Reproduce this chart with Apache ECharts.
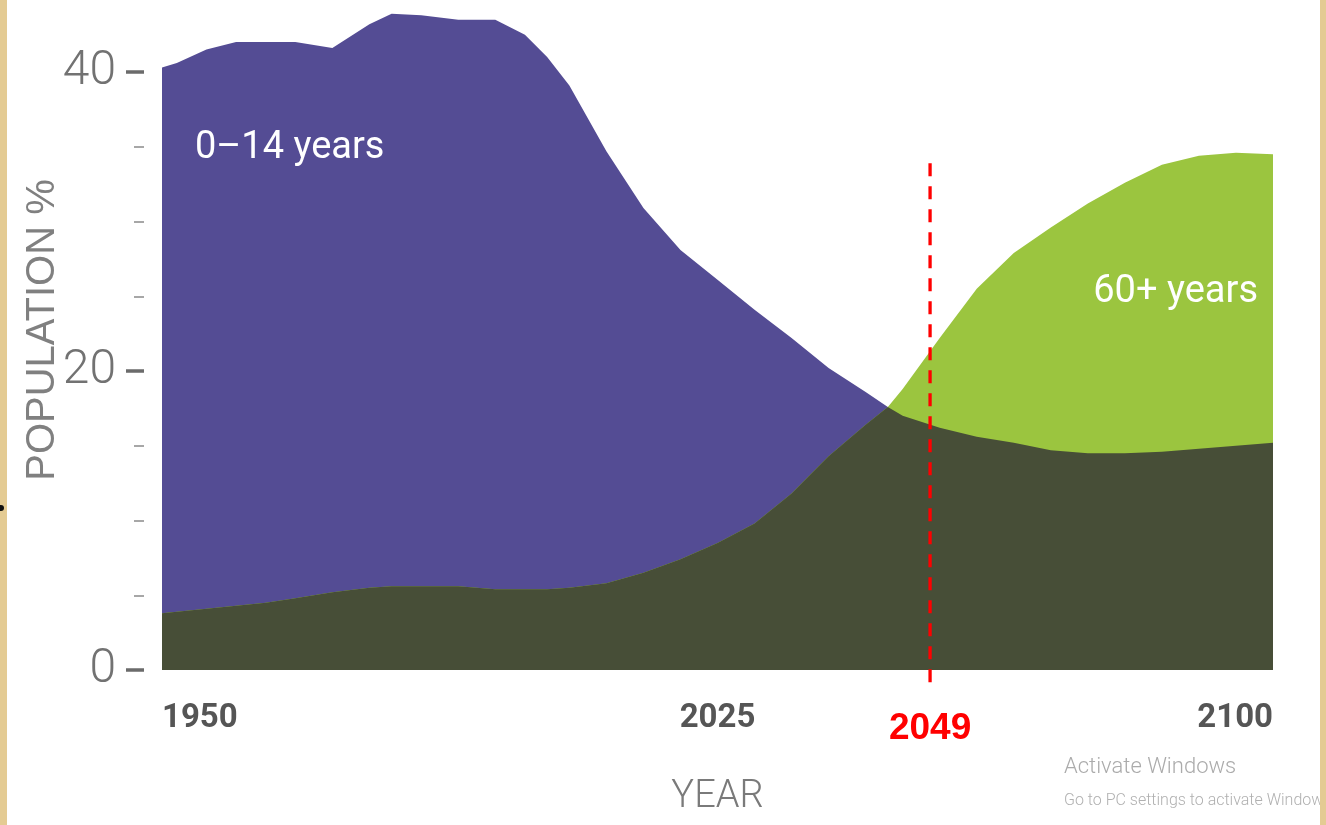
<!DOCTYPE html>
<html>
<head>
<meta charset="utf-8">
<script src="https://cdn.jsdelivr.net/npm/echarts@6/dist/echarts.min.js"></script>
<style>
  html, body { margin: 0; padding: 0; background: #ffffff; }
  #chart { width: 1326px; height: 825px; }
</style>
</head>
<body>
<div id="chart"></div>
<script>
// Years (value axis)
const years = [1950, 1952, 1956, 1960, 1964, 1968, 1973, 1978, 1981, 1985, 1990, 1995, 1999, 2002, 2005,
  2010, 2015, 2020, 2025, 2030, 2035, 2040, 2045, 2048, 2050, 2055, 2060, 2065, 2070, 2075, 2080, 2085, 2090, 2095, 2100];
// Share of population aged 0–14 (%)
const youth = [40.3, 40.6, 41.5, 42.0, 42.0, 42.0, 41.6, 43.2, 43.9, 43.8, 43.5, 43.5, 42.5, 41.0, 39.1,
  34.7, 30.9, 28.1, 26.1, 24.1, 22.2, 20.2, 18.6, 17.6, 17.0, 16.2, 15.6, 15.2, 14.7, 14.5, 14.5, 14.6, 14.8, 15.0, 15.2];
// Share of population aged 60+ (%)
const elderly = [3.8, 3.9, 4.1, 4.3, 4.5, 4.8, 5.2, 5.5, 5.6, 5.6, 5.6, 5.4, 5.4, 5.4, 5.5,
  5.8, 6.5, 7.4, 8.5, 9.8, 11.8, 14.3, 16.4, 17.6, 18.8, 22.2, 25.5, 27.9, 29.6, 31.2, 32.6, 33.8, 34.4, 34.6, 34.5];
// Axis ticks
const xTicks = { min: 1950, max: 2100, interval: 75 };
const yTicks = { min: 0, max: 60, interval: 20 };
// Annotation (dashed marker)
const markerYear = 2053.7;
const markerLabel = '2049';
const markerTop = 33.9;
const markerBottom = -1.4;
const seriesNames = ['0–14 years', '60+ years'];

const overlap = years.map((y, i) => Math.min(youth[i], elderly[i]));
const pairs = arr => years.map((y, i) => [y, arr[i]]);

const chart = echarts.init(document.getElementById('chart'), null, { renderer: 'canvas' });

const areaSeries = (name, data, color, z) => ({
  name: name,
  type: 'line',
  data: data,
  showSymbol: false,
  symbol: 'none',
  smooth: false,
  lineStyle: { width: 0, color: color },
  areaStyle: { color: color, opacity: 1 },
  z: z,
  silent: true
});

const SANS = 'Roboto, "Liberation Sans", sans-serif';

const baseGraphic = [
  { type: 'text', x: 195, y: 148, z: 10, silent: true,
    style: { text: seriesNames[0], fill: '#ffffff', fontSize: 38, fontFamily: SANS, align: 'left', verticalAlign: 'middle' } },
  { type: 'text', x: 1258, y: 292, z: 10, silent: true,
    style: { text: seriesNames[1], fill: '#ffffff', fontSize: 38, fontFamily: SANS, align: 'right', verticalAlign: 'middle' } },
  { type: 'text', x: 43, y: 330, rotation: Math.PI / 2, z: 10, silent: true,
    style: { text: 'POPULATION %', fill: '#808080', fontSize: 40, fontFamily: '"Liberation Sans", sans-serif', align: 'center', verticalAlign: 'middle' } },
  { type: 'text', x: 1064, y: 767, z: 10, silent: true,
    style: { text: 'Activate Windows', fill: '#ababab', fontSize: 22, fontWeight: 300, fontFamily: SANS, align: 'left', verticalAlign: 'middle' } },
  { type: 'text', x: 1064, y: 801, z: 10, silent: true,
    style: { text: 'Go to PC settings to activate Windows', fill: '#b0b0b0', fontSize: 16, fontWeight: 300, fontFamily: SANS, align: 'left', verticalAlign: 'middle' } },
  { type: 'rect', z: 20, silent: true, shape: { x: 0, y: 0, width: 7, height: 825 }, style: { fill: '#e4cb93' } },
  { type: 'rect', z: 20, silent: true, shape: { x: 1320, y: 0, width: 6, height: 825 }, style: { fill: '#e4cb93' } },
  { type: 'circle', z: 21, silent: true, shape: { cx: 1, cy: 508, r: 3 }, style: { fill: '#111111' } }
];

const option = {
  animation: false,
  backgroundColor: '#ffffff',
  grid: { left: 162, right: 53, top: -227, bottom: 155, containLabel: false, outerBoundsMode: 'none' },
  xAxis: {
    type: 'value',
    min: xTicks.min, max: xTicks.max, interval: xTicks.interval,
    axisLine: { show: false },
    axisTick: { show: false },
    splitLine: { show: false },
    axisLabel: {
      margin: 32,
      fontSize: 33,
      fontWeight: 'bold',
      fontFamily: SANS,
      color: '#555555',
      showMinLabel: true,
      showMaxLabel: true,
      alignMinLabel: 'left',
      alignMaxLabel: 'right',
      formatter: v => String(v)
    },
    name: 'YEAR',
    nameLocation: 'middle',
    nameGap: 108,
    nameTextStyle: { fontSize: 38, fontWeight: 300, fontFamily: SANS, color: '#7a7a7a' }
  },
  yAxis: {
    type: 'value',
    min: yTicks.min, max: yTicks.max, interval: yTicks.interval,
    offset: 18,
    axisLine: { show: false },
    splitLine: { show: false },
    axisTick: { show: true, inside: false, length: 18, lineStyle: { color: '#6b6b6b', width: 3.5 } },
    minorTick: { show: true, splitNumber: 4, length: 10, lineStyle: { color: '#8a8a8a', width: 1.5 } },
    minorSplitLine: { show: false },
    axisLabel: {
      margin: 28,
      fontSize: 48,
      fontWeight: 300,
      fontFamily: SANS,
      color: '#727272',
      formatter: v => String(v)
    }
  },
  series: [
    areaSeries(seriesNames[0], pairs(youth), '#544c94', 2),
    areaSeries(seriesNames[1], pairs(elderly), '#9bc53f', 3),
    areaSeries('overlap', pairs(overlap), '#474e37', 4)
  ],
  graphic: baseGraphic
};

chart.setOption(option);

// Dashed marker placed through the library's own scales
const pTop = chart.convertToPixel({ gridIndex: 0 }, [markerYear, markerTop]);
const pBot = chart.convertToPixel({ gridIndex: 0 }, [markerYear, markerBottom]);
chart.setOption({
  graphic: baseGraphic.concat([
    { type: 'line', z: 15, silent: true,
      shape: { x1: pTop[0], y1: pTop[1], x2: pBot[0], y2: pBot[1] },
      style: { stroke: '#ff0000', lineWidth: 3.3, lineDash: [13, 10] } },
    { type: 'text', x: pBot[0], y: pBot[1] + 38, z: 15, silent: true,
      style: { text: markerLabel, fill: '#ff0000', fontSize: 37, fontWeight: 'bold',
               fontFamily: '"Liberation Sans", sans-serif', align: 'center', verticalAlign: 'middle' } }
  ])
});
</script>
</body>
</html>
